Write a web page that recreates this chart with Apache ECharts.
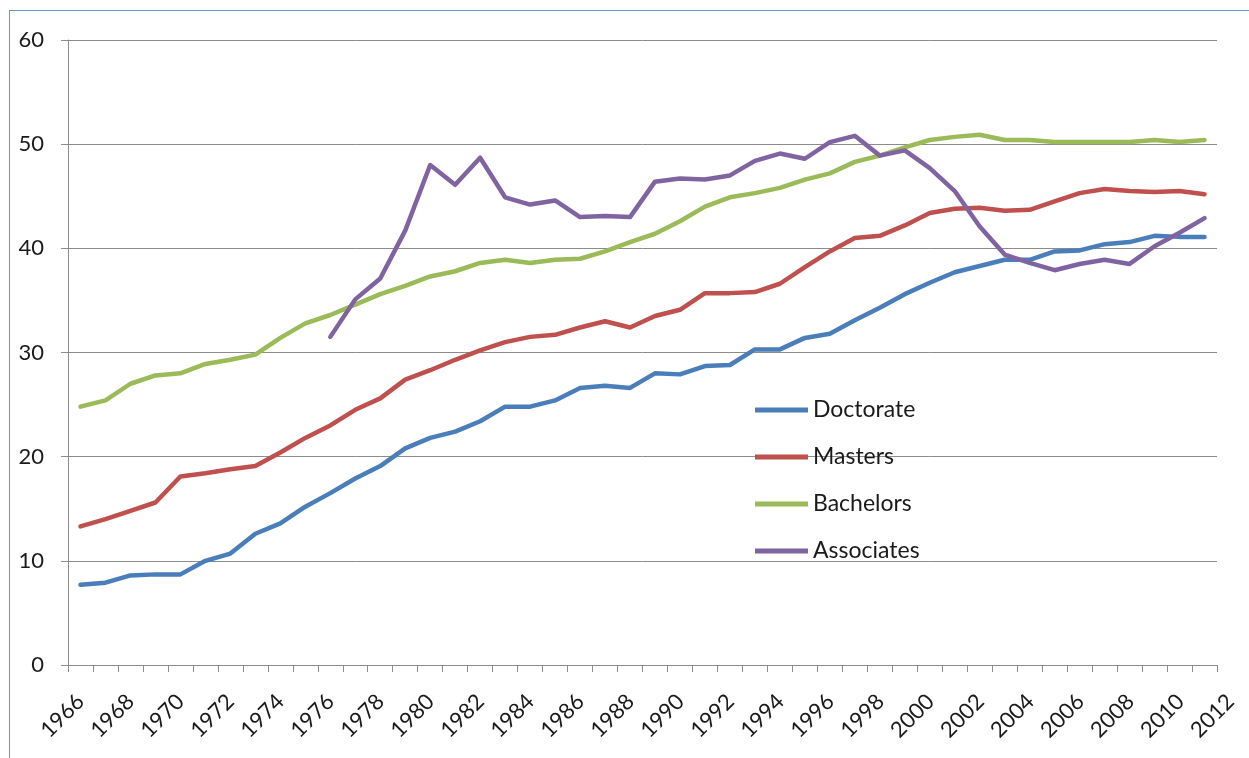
<!DOCTYPE html>
<html>
<head>
<meta charset="utf-8">
<title>Degrees chart</title>
<script src="https://cdn.jsdelivr.net/npm/echarts@6/dist/echarts.min.js"></script>
<style>
html, body { margin: 0; padding: 0; background: #fff; overflow: hidden; }
#frame {
    position: absolute;
    left: 9px;
    top: 10px;
    width: 1300px;
    height: 800px;
    border-top: 1.5px solid #6a94cf;
    border-left: 1.5px solid #6a94cf;
}
#main { position: absolute; left: 0; top: 0; width: 1249px; height: 758px; }
</style>
</head>
<body>
<div id="frame"></div>
<div id="main"></div>
<script>
// years with data (1966 - 2011)
var years = [];
for (var y = 1966; y <= 2011; y++) years.push(String(y));
// tick label row runs one step further (Excel shows 2012 at the end)
var labelYears = years.concat(['2012']);

var doctorate = [7.7, 7.9, 8.6, 8.7, 8.7, 10.0, 10.7, 12.6, 13.6, 15.2,
    16.5, 17.9, 19.1, 20.8, 21.8, 22.4, 23.4, 24.8, 24.8, 25.4,
    26.6, 26.8, 26.6, 28.0, 27.9, 28.7, 28.8, 30.3, 30.3, 31.4,
    31.8, 33.1, 34.3, 35.6, 36.7, 37.7, 38.3, 38.9, 38.9, 39.7,
    39.8, 40.4, 40.6, 41.2, 41.1, 41.1];

var masters = [13.3, 14.0, 14.8, 15.6, 18.1, 18.4, 18.8, 19.1, 20.4, 21.8,
    23.0, 24.5, 25.6, 27.4, 28.3, 29.3, 30.2, 31.0, 31.5, 31.7,
    32.4, 33.0, 32.4, 33.5, 34.1, 35.7, 35.7, 35.8, 36.6, 38.2,
    39.7, 41.0, 41.2, 42.2, 43.4, 43.8, 43.9, 43.6, 43.7, 44.5,
    45.3, 45.7, 45.5, 45.4, 45.5, 45.2];

var bachelors = [24.8, 25.4, 27.0, 27.8, 28.0, 28.9, 29.3, 29.8, 31.4, 32.8,
    33.6, 34.6, 35.6, 36.4, 37.3, 37.8, 38.6, 38.9, 38.6, 38.9,
    39.0, 39.7, 40.6, 41.4, 42.6, 44.0, 44.9, 45.3, 45.8, 46.6,
    47.2, 48.3, 48.9, 49.7, 50.4, 50.7, 50.9, 50.4, 50.4, 50.2,
    50.2, 50.2, 50.2, 50.4, 50.2, 50.4];

var associates = [null, null, null, null, null, null, null, null, null, null,
    31.5, 35.1, 37.1, 41.7, 48.0, 46.1, 48.7, 44.9, 44.2, 44.6,
    43.0, 43.1, 43.0, 46.4, 46.7, 46.6, 47.0, 48.4, 49.1, 48.6,
    50.2, 50.8, 48.9, 49.4, 47.7, 45.5, 42.1, 39.4, 38.6, 37.9,
    38.5, 38.9, 38.5, 40.2, 41.5, 42.9];

var seriesNames = ['Doctorate', 'Masters', 'Bachelors', 'Associates'];
var seriesColors = ['#4a7ebb', '#c0504d', '#9bbb59', '#8064a2'];
var seriesData = [doctorate, masters, bachelors, associates];

var fontFamily = 'Lato, "Open Sans", sans-serif';
var gridColor = '#8c8c8c';

var myChart = echarts.init(document.getElementById('main'));

var option = {
    animation: false,
    textStyle: { fontFamily: fontFamily },
    grid: [
        { left: 68, right: 32, top: 40, bottom: 93 },
        // wider twin grid, only carries the year labels (47 slots of same width)
        { left: 68, width: 1175, top: 40, bottom: 93 }
    ],
    legend: {
        orient: 'vertical',
        left: 755,
        top: 398,
        padding: 0,
        itemWidth: 53,
        itemHeight: 5,
        itemGap: 23,
        icon: 'rect',
        data: seriesNames,
        textStyle: { fontSize: 23, lineHeight: 24, color: '#1a1a1a', fontFamily: fontFamily }
    },
    xAxis: [
        {
            type: 'category',
            gridIndex: 0,
            data: years,
            boundaryGap: true,
            axisLine: { lineStyle: { color: gridColor, width: 1 } },
            axisTick: { show: true, length: 7, interval: 0, lineStyle: { color: gridColor } },
            axisLabel: { show: false },
            splitLine: { show: false }
        },
        {
            type: 'category',
            gridIndex: 1,
            data: labelYears,
            boundaryGap: true,
            axisLine: { show: false },
            axisTick: { show: false },
            splitLine: { show: false },
            axisLabel: {
                interval: 1,
                rotate: 45,
                margin: 33,
                fontSize: 22,
                color: '#1a1a1a',
                fontFamily: fontFamily
            }
        }
    ],
    yAxis: [
        {
            type: 'value',
            gridIndex: 0,
            min: 0,
            max: 60,
            interval: 10,
            axisLine: { show: true, lineStyle: { color: gridColor, width: 1 } },
            axisTick: { show: true, length: 7, lineStyle: { color: gridColor } },
            axisLabel: { margin: 24, fontSize: 22, color: '#1a1a1a', fontFamily: fontFamily },
            splitLine: { lineStyle: { color: gridColor, width: 1 } }
        },
        { type: 'value', gridIndex: 1, min: 0, max: 1, show: false }
    ],
    series: seriesNames.map(function (name, i) {
        return {
            name: name,
            type: 'line',
            xAxisIndex: 0,
            yAxisIndex: 0,
            data: seriesData[i],
            symbol: 'none',
            connectNulls: false,
            color: seriesColors[i],
            lineStyle: { width: 4.5, color: seriesColors[i], cap: 'round', join: 'round' },
            emphasis: { disabled: true }
        };
    })
};

myChart.setOption(option);
</script>
</body>
</html>
